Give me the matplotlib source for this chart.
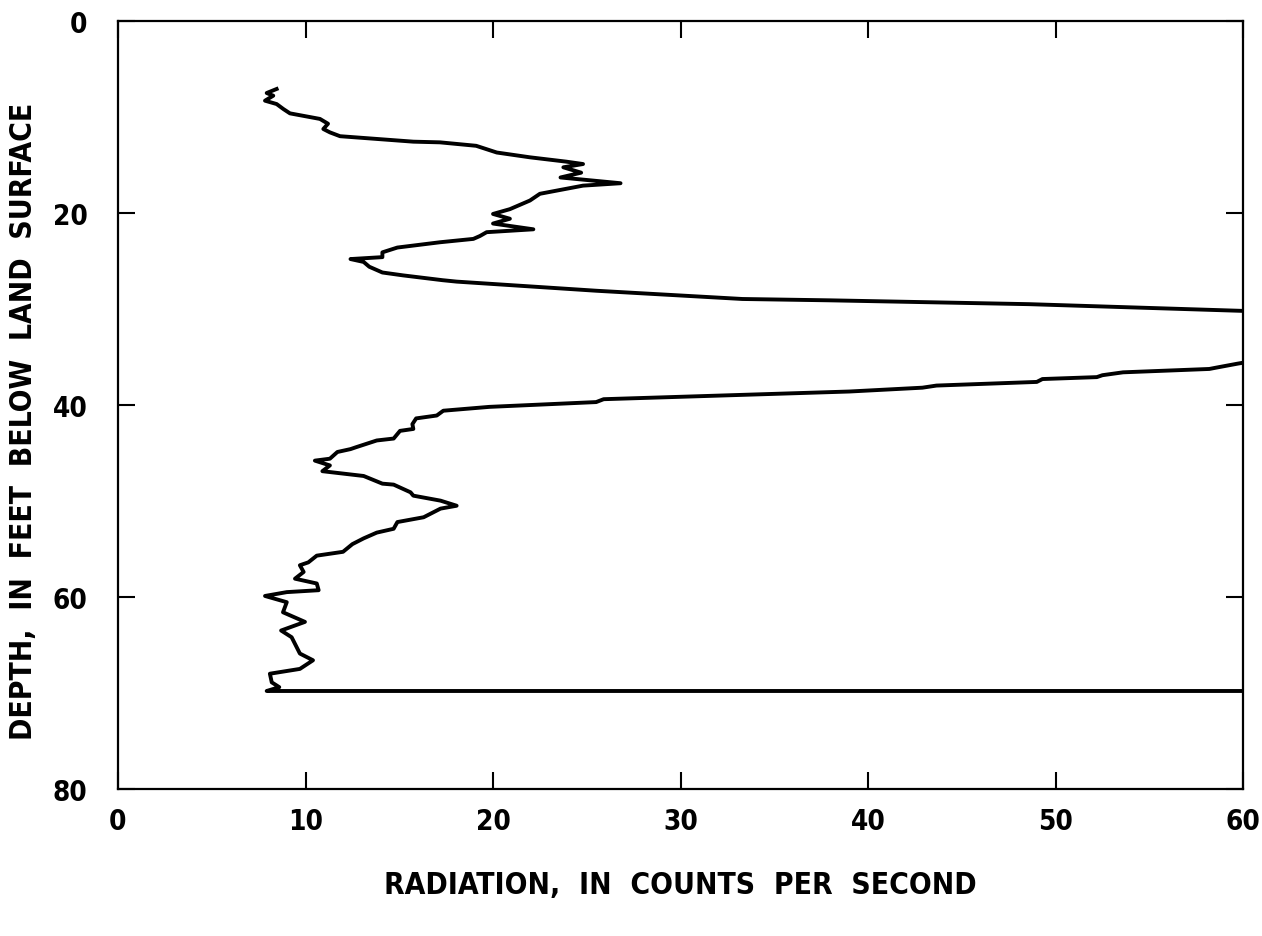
import numpy as np
import matplotlib.pyplot as plt

# gamma log (nan = trace goes off scale past 60)
radiation = [8.46, 7.93, 8.28, 7.84, 8.46, 8.82, 9.17, 10.77, 11.2, 10.95, 11.3, 11.84,
             15.75, 17.17, 19.1, 20.2, 21.97, 23.9, 24.8, 23.75, 24.7, 23.6, 26.8, 24.8,
             22.5, 21.97, 20.9, 20.0, 20.9, 20.0, 22.15, 19.66, 19.3, 18.95, 17.17, 14.9,
             14.1, 14.1, 12.4, 13.1, 13.4, 14.1, 15.2, 17.3, 18.06, 25.5, 33.3, 37.97,
             48.6, 60.0, np.nan,
             60.0, 59.7, 58.6, 58.2, 53.6, 52.5, 52.2, 49.3, 49.0, 43.65, 42.9, 39.0,
             25.9, 25.5, 19.8, 17.35, 17.0, 15.9, 15.7, 15.75, 15.04, 14.7, 13.8, 12.7,
             12.4, 11.7, 11.3, 10.5, 11.3, 10.9, 13.1, 14.1, 14.7, 15.6, 15.75, 17.2,
             18.06, 17.2, 16.3, 14.9, 14.7, 13.8, 13.1, 12.5, 12.0, 10.6, 10.15, 9.7,
             9.9, 9.44, 10.6, 10.7, 9.0, 7.84, 9.0, 8.8, 9.97, 8.7, 9.26, 9.7, 10.3,
             10.4, 9.7, 8.1, 8.2, 8.6, 7.93, 60.0]
depth = [7.08, 7.5, 7.78, 8.3, 8.65, 9.17, 9.62, 10.2, 10.7, 11.25, 11.6, 12.0,
         12.57, 12.64, 13.0, 13.7, 14.2, 14.65, 14.9, 15.24, 15.8, 16.3, 16.9, 17.15,
         18.0, 18.7, 19.6, 20.1, 20.6, 21.1, 21.7, 22.0, 22.4, 22.7, 23.05, 23.6,
         24.1, 24.6, 24.8, 25.1, 25.6, 26.2, 26.5, 27.0, 27.15, 28.1, 28.96, 29.1,
         29.5, 30.2, np.nan,
         35.6, 35.7, 36.1, 36.25, 36.6, 36.9, 37.1, 37.3, 37.6, 37.98, 38.2, 38.6,
         39.4, 39.7, 40.2, 40.6, 41.1, 41.4, 42.0, 42.5, 42.7, 43.5, 43.7, 44.4,
         44.6, 44.9, 45.6, 45.8, 46.3, 46.9, 47.4, 48.2, 48.3, 49.1, 49.45, 49.97,
         50.5, 50.8, 51.7, 52.2, 52.9, 53.3, 53.9, 54.5, 55.3, 55.7, 56.4, 56.7,
         57.4, 58.1, 58.6, 59.3, 59.5, 59.9, 60.55, 61.6, 62.6, 63.5, 64.2, 65.9, 66.5,
         66.6, 67.5, 68.0, 68.9, 69.4, 69.8, 69.8]

x_ticks = [0, 10, 20, 30, 40, 50, 60]
y_ticks = [0, 20, 40, 60, 80]

plt.rcParams['font.family'] = ['DejaVu Sans']
plt.rcParams['font.weight'] = 'bold'
plt.rcParams['font.stretch'] = 'condensed'

fig = plt.figure(figsize=(12.62, 9.37), dpi=100)
ax = fig.add_axes([0.0935, 0.157, 0.8915, 0.8195])

ax.plot(radiation, depth, color='black', lw=2.8, solid_joinstyle='round')

ax.set_xlim(0, 60)
ax.set_ylim(80, 0)
ax.set_xticks(x_ticks)
ax.set_yticks(y_ticks)
ax.tick_params(direction='in', length=12, width=1.5, top=True, right=True,
               labelsize=20, pad=13)
ax.tick_params(axis='y', pad=22)
for s in ax.spines.values():
    s.set_linewidth(1.6)

ax.set_xlabel('RADIATION,  IN  COUNTS  PER  SECOND', fontsize=21.5, fontweight='bold')
ax.set_ylabel('DEPTH,  IN  FEET  BELOW  LAND  SURFACE', fontsize=21.5, fontweight='bold')
ax.xaxis.set_label_coords(0.5, -0.105)
ax.yaxis.set_label_coords(-0.071, 0.48)

fig.savefig('out.png', dpi=100)
